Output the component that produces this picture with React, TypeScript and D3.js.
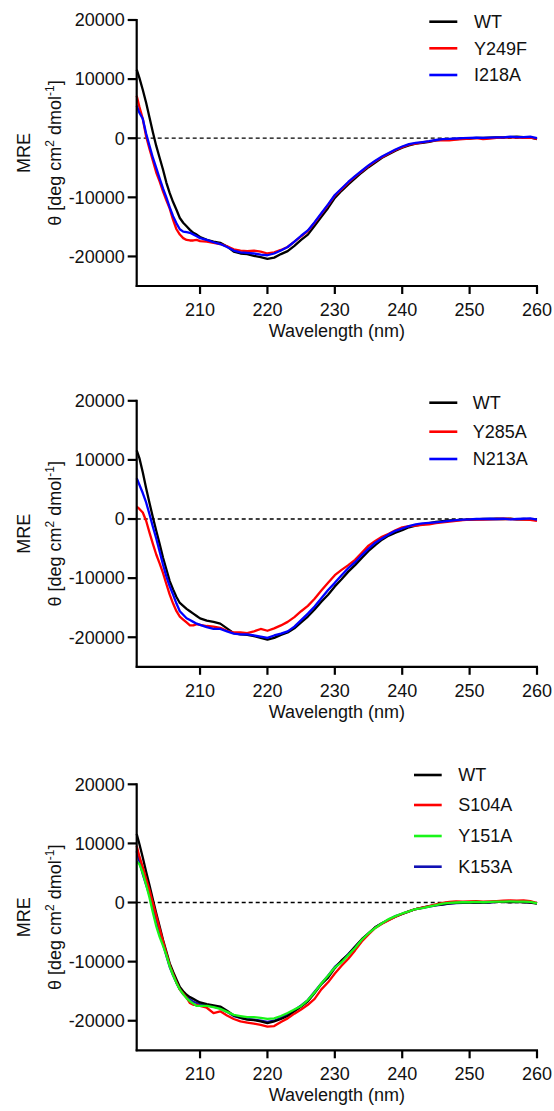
import React from 'react';
import * as d3 from 'd3';

// ---------- data ----------
const wavelengths = [
  200.6, 201, 201.5, 202, 202.5, 203, 203.5, 204, 204.5, 205,
  205.5, 206, 206.5, 207, 207.5, 208, 208.5, 209, 209.5, 210,
  211, 212, 213, 214, 215, 216, 217, 218, 219, 220,
  221, 222, 223, 224, 225, 226, 227, 228, 229, 230,
  231, 232, 233, 234, 235, 236, 237, 238, 239, 240,
  241, 242, 243, 244, 245, 246, 247, 248, 249, 250,
  251, 252, 253, 254, 255, 256, 257, 258, 259, 260,
];

// Panel 1
const wtA = [
  11600, 10200, 8200, 6000, 3500, 1000, -1300, -3300, -5300, -7500,
  -9300, -10800, -12100, -13500, -14300, -14900, -15500, -16000, -16300, -16700,
  -17200, -17500, -17700, -18300, -19200, -19500, -19600, -19900, -20100, -20400,
  -20200, -19600, -19100, -18200, -17200, -16300, -14800, -13300, -11800, -10100,
  -8900, -7800, -6800, -5800, -4900, -4100, -3300, -2700, -2100, -1600,
  -1200, -900, -800, -600, -350, -250, -150, -150, -50, -50,
  50, 50, 100, 150, 150, 200, 250, 200, 150, -150,
];
const y249f = [
  7200, 5300, 3300, 300, -1800, -3800, -5800, -7300, -9000, -10500,
  -11900, -13800, -15400, -16300, -16900, -17200, -17300, -17300, -17200, -17400,
  -17500, -17700, -17900, -18300, -18800, -19000, -19100, -19000, -19200, -19500,
  -19300, -18900, -18400, -17500, -16600, -15700, -14300, -12800, -11300, -9700,
  -8600, -7500, -6500, -5600, -4700, -3900, -3200, -2600, -2000, -1500,
  -1100, -900, -700, -550, -350, -300, -350, -250, -150, -50,
  0, -150, -50, 50, 100, 150, 100, 50, 100, -100,
];
const i218a = [
  5500, 4300, 3300, 800, -1300, -3300, -5000, -6800, -8500, -10000,
  -11700, -13200, -14400, -15400, -15800, -15900, -16000, -16300, -16600, -16900,
  -17200, -17600, -17900, -18400, -19000, -19300, -19400, -19500, -19700, -19800,
  -19500, -19000, -18400, -17500, -16500, -15600, -14200, -12700, -11200, -9600,
  -8500, -7400, -6400, -5500, -4600, -3800, -3100, -2500, -1900, -1400,
  -1000, -800, -650, -500, -300, -150, -100, -50, 0, 50,
  100, 50, 100, 150, 150, 250, 200, 200, 250, 0,
];

// Panel 2
const wtB = [
  11600, 10300, 7900, 5200, 2700, 300, -2000, -4200, -6500, -8500,
  -10500, -11900, -13200, -14200, -14700, -15200, -15600, -16000, -16400, -16800,
  -17200, -17400, -17700, -18500, -19300, -19500, -19600, -19800, -20100, -20400,
  -20100, -19600, -19200, -18500, -17500, -16500, -15300, -14000, -12800, -11400,
  -10200, -8900, -7800, -6600, -5400, -4400, -3500, -2800, -2300, -1900,
  -1400, -1100, -900, -700, -500, -350, -250, -200, -150, -100,
  -50, 0, 0, 50, 0, 50, -50, 0, -50, -100,
];
const y285a = [
  2100, 1700, 1100, -300, -2300, -4200, -6000, -7500, -9100, -11000,
  -12800, -14300, -15600, -16500, -17000, -17500, -18000, -18000, -17800, -17900,
  -18100, -18200, -18400, -18900, -19200, -19200, -19300, -19000, -18600, -18900,
  -18500, -18000, -17400, -16600, -15600, -14700, -13500, -12100, -10800, -9500,
  -8600, -7800, -6900, -5700, -4500, -3700, -3000, -2500, -1900, -1400,
  -1200, -1100, -1000, -900, -700, -550, -450, -300, -200, -100,
  -50, -100, -50, 0, 50, 0, -50, -100, -150, -300,
];
const n213a = [
  6900, 5800, 4400, 2800, 800, -1300, -3300, -5500, -7700, -9700,
  -11400, -12800, -14300, -15600, -16200, -16800, -17100, -17400, -17700, -17900,
  -18300, -18600, -18600, -19000, -19400, -19500, -19500, -19700, -19900, -20100,
  -19700, -19400, -19000, -18200, -17100, -16000, -14800, -13400, -12000, -10800,
  -9500, -8300, -7300, -6100, -5000, -4000, -3300, -2600, -2000, -1600,
  -1200, -900, -750, -650, -550, -450, -300, -200, -100, -50,
  0, 0, 50, 0, 50, -50, 0, 50, 100, -100,
];

// Panel 3
const wtC = [
  11600, 9900, 7600, 5200, 2900, 500, -1800, -4000, -6300, -8300,
  -10300, -11700, -13000, -14300, -15000, -15600, -16000, -16300, -16600, -16900,
  -17200, -17400, -17600, -18300, -19100, -19500, -19800, -19900, -20100, -20400,
  -20100, -19700, -19200, -18400, -17600, -16700, -15300, -13800, -12700, -11100,
  -9800, -8800, -7500, -6200, -5200, -4200, -3500, -2900, -2400, -1950,
  -1500, -1100, -850, -600, -450, -300, -150, -50, 0, 0,
  50, 0, 50, 100, 100, 50, 100, 50, 0, -200,
];
const s104a = [
  9600, 7800, 6000, 4000, 2100, -100, -2200, -4400, -6500, -8600,
  -10600, -12100, -13500, -14700, -15400, -16100, -17000, -17300, -17300, -17500,
  -17800, -18700, -18400, -19100, -19700, -20100, -20300, -20500, -20700, -21000,
  -20900, -20200, -19600, -18800, -18100, -17300, -16300, -14700, -13500, -12000,
  -10700, -9500, -8100, -6600, -5400, -4300, -3600, -3000, -2400, -1900,
  -1500, -1100, -850, -600, -300, -50, 100, 200, 150, 200,
  250, 150, 200, 250, 300, 350, 300, 350, 250, -100,
];
const y151a = [
  6900, 6500, 5000, 3000, 800, -1700, -4000, -5800, -7300, -8900,
  -10800, -12300, -13600, -14700, -15500, -16200, -16700, -17100, -17500, -17500,
  -17500, -17700, -18000, -18500, -19000, -19200, -19400, -19400, -19500, -19700,
  -19600, -19200, -18700, -18100, -17500, -16500, -15200, -13700, -12400, -11000,
  -10100, -8900, -7700, -6300, -5200, -4300, -3500, -2800, -2300, -1850,
  -1500, -1100, -950, -700, -450, -200, -50, 0, 50, 50,
  100, 50, 100, 150, 150, 200, 150, 150, 100, -150,
];
const k153a = [
  8700, 7000, 4800, 3000, 1300, -700, -2800, -5000, -7000, -9000,
  -10900, -12300, -13600, -14700, -15500, -16000, -16400, -16800, -17000, -17200,
  -17400, -17600, -17900, -18500, -19200, -19500, -19700, -19800, -20000, -20200,
  -20000, -19500, -19000, -18200, -17400, -16500, -15100, -13700, -12400, -10900,
  -9900, -8700, -7500, -6300, -5200, -4200, -3500, -2900, -2300, -1900,
  -1500, -1100, -900, -700, -500, -350, -200, -100, -50, 0,
  50, 0, 50, 100, 100, 150, 100, 100, 50, -150,
];

const xTicks = [210, 220, 230, 240, 250, 260];
const yTicks = [20000, 10000, 0, -10000, -20000];
const xDomain = [200.6, 260];
const yDomain = [-25000, 20000];

const panel1Legend = ['WT', 'Y249F', 'I218A'];
const panel2Legend = ['WT', 'Y285A', 'N213A'];
const panel3Legend = ['WT', 'S104A', 'Y151A', 'K153A'];

// ---------- layout / style ----------
const FONT = '"Liberation Sans", Arial, Helvetica, sans-serif';
const X0 = 136.7;
const X1 = 537;
const PH = 266;

type Series = { name: string; values: number[]; color: string };

const panels = [
  {
    top: 20,
    draw: [
      { name: 'WT', values: wtA, color: '#000000' },
      { name: 'Y249F', values: y249f, color: '#ff0000' },
      { name: 'I218A', values: i218a, color: '#0000ff' },
    ],
    legend: {
      names: panel1Legend,
      colors: ['#000000', '#ff0000', '#0000ff'],
      lx0: 429.3, lx1: 457.3, tx: 474, rows: [21.7, 48.3, 75],
    },
  },
  {
    top: 400.8,
    draw: [
      { name: 'WT', values: wtB, color: '#000000' },
      { name: 'Y285A', values: y285a, color: '#ff0000' },
      { name: 'N213A', values: n213a, color: '#0000ff' },
    ],
    legend: {
      names: panel2Legend,
      colors: ['#000000', '#ff0000', '#0000ff'],
      lx0: 429.3, lx1: 457.3, tx: 472.7, rows: [402.7, 431.7, 459],
    },
  },
  {
    top: 784.3,
    draw: [
      { name: 'K153A', values: k153a, color: '#1010b4' },
      { name: 'WT', values: wtC, color: '#000000' },
      { name: 'S104A', values: s104a, color: '#ff0000' },
      { name: 'Y151A', values: y151a, color: '#19f519' },
    ],
    legend: {
      names: panel3Legend,
      colors: ['#000000', '#ff0000', '#19f519', '#1010b4'],
      lx0: 414, lx1: 441.7, tx: 458.3, rows: [775, 805, 836, 866.7],
    },
  },
];

function Panel({ top, draw, legend }: any) {
  const x = d3.scaleLinear().domain(xDomain).range([X0, X1]);
  const y = d3.scaleLinear().domain(yDomain).range([top + PH, top]);
  const line = d3
    .line<number>()
    .x((_, i) => x(wavelengths[i]))
    .y((d) => y(d))
    .curve(d3.curveLinear);
  const cy = (y(yDomain[0]) + y(yDomain[1])) / 2;
  const axisY = y(yDomain[0]);
  return (
    <g>
      {/* zero dashed line */}
      <line
        x1={x(xDomain[0])}
        x2={x(xDomain[1])}
        y1={y(0)}
        y2={y(0)}
        stroke="#000"
        strokeWidth={1.3}
        strokeDasharray="4,3"
      />
      {draw.map((s: Series) => (
        <path
          key={s.name}
          d={line(s.values) || ''}
          fill="none"
          stroke={s.color}
          strokeWidth={2.3}
          strokeLinejoin="round"
        />
      ))}
      {/* y axis */}
      <line x1={X0} x2={X0} y1={y(yDomain[1]) - 1} y2={axisY + 1} stroke="#000" strokeWidth={2.2} />
      {yTicks.map((t) => (
        <g key={t}>
          <line x1={X0 - 9} x2={X0} y1={y(t)} y2={y(t)} stroke="#000" strokeWidth={2.2} />
          <text
            x={X0 - 12}
            y={y(t)}
            dy="0.35em"
            textAnchor="end"
            fontSize={18}
            fontFamily={FONT}
            fill="#111"
          >
            {t}
          </text>
        </g>
      ))}
      {/* x axis */}
      <line x1={X0 - 1} x2={x(xDomain[1]) + 1} y1={axisY} y2={axisY} stroke="#000" strokeWidth={2.2} />
      {xTicks.map((t) => (
        <g key={t}>
          <line x1={x(t)} x2={x(t)} y1={axisY} y2={axisY + 8} stroke="#000" strokeWidth={2.2} />
          <text
            x={x(t)}
            y={axisY + 30}
            textAnchor="middle"
            fontSize={18}
            fontFamily={FONT}
            fill="#111"
          >
            {t}
          </text>
        </g>
      ))}
      <text
        x={(X0 + X1) / 2}
        y={axisY + 51}
        textAnchor="middle"
        fontSize={18}
        fontFamily={FONT}
        fill="#111"
      >
        Wavelength (nm)
      </text>
      {/* y label */}
      <text
        transform={`translate(30,${cy}) rotate(-90)`}
        textAnchor="middle"
        fontSize={18}
        fontFamily={FONT}
        fill="#111"
      >
        MRE
      </text>
      <text
        transform={`translate(61,${cy}) rotate(-90)`}
        textAnchor="middle"
        fontSize={18}
        fontFamily={FONT}
        fill="#111"
      >
        θ [deg cm
        <tspan fontSize={12} dy={-7}>2</tspan>
        <tspan dy={7}> dmol</tspan>
        <tspan fontSize={12} dy={-7}>-1</tspan>
        <tspan dy={7}>]</tspan>
      </text>
      {/* legend */}
      {legend.names.map((n: string, i: number) => (
        <g key={n}>
          <line
            x1={legend.lx0}
            x2={legend.lx1}
            y1={legend.rows[i]}
            y2={legend.rows[i]}
            stroke={legend.colors[i]}
            strokeWidth={2.6}
          />
          <text
            x={legend.tx}
            y={legend.rows[i]}
            dy="0.35em"
            fontSize={18}
            fontFamily={FONT}
            fill="#111"
          >
            {n}
          </text>
        </g>
      ))}
    </g>
  );
}

export default function App() {
  return (
    <svg
      width={554}
      height={1111}
      viewBox="0 0 554 1111"
      style={{ position: 'absolute', left: 0, top: 0, background: '#fff' }}
    >
      <rect width={554} height={1111} fill="#fff" />
      {panels.map((p, i) => (
        <Panel key={i} top={p.top} draw={p.draw} legend={p.legend} />
      ))}
    </svg>
  );
}
